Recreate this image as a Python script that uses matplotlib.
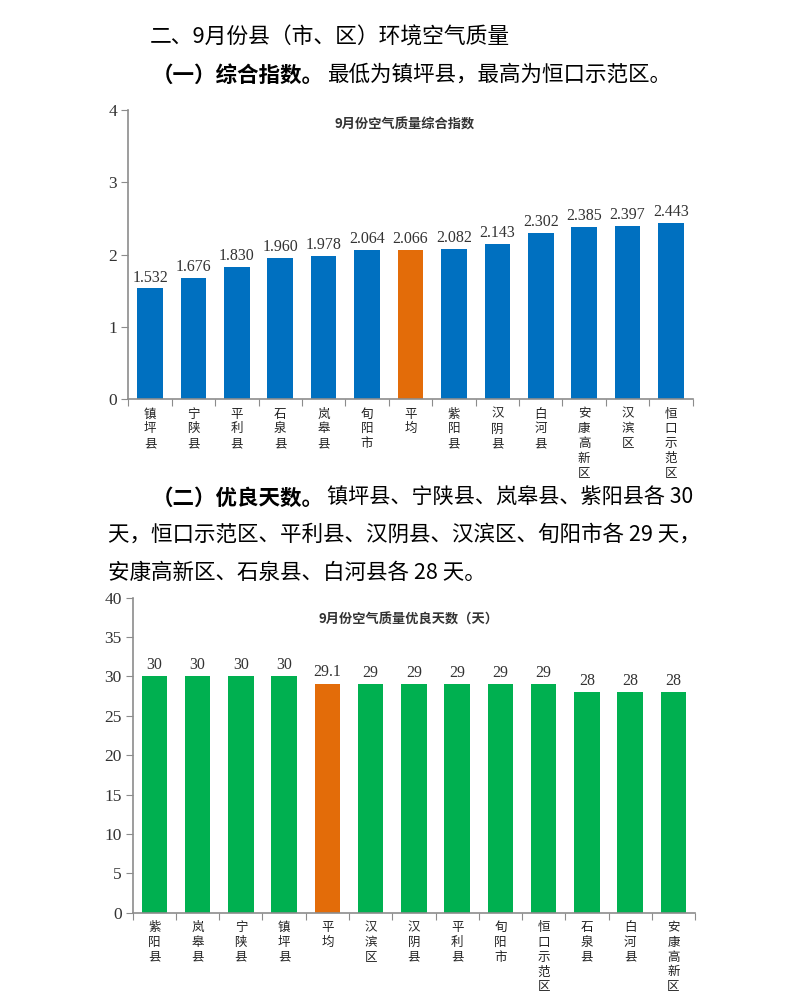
import matplotlib
matplotlib.use("Agg")
import matplotlib.pyplot as plt
import numpy as np

plt.rcParams['font.family'] = ['Noto Sans CJK SC', 'DejaVu Sans']

# chart 1: composite index
idx_names = ["镇坪县", "宁陕县", "平利县", "石泉县", "岚皋县", "旬阳市", "平均",
             "紫阳县", "汉阴县", "白河县", "安康高新区", "汉滨区", "恒口示范区"]
idx_values = [1.532, 1.676, 1.830, 1.960, 1.978, 2.064, 2.066,
              2.082, 2.143, 2.302, 2.385, 2.397, 2.443]

# chart 2: good-air days
day_names = ["紫阳县", "岚皋县", "宁陕县", "镇坪县", "平均", "汉滨区", "汉阴县",
             "平利县", "旬阳市", "恒口示范区", "石泉县", "白河县", "安康高新区"]
day_values = [30, 30, 30, 30, 29.1, 29, 29, 29, 29, 29, 28, 28, 28]

blue = "#0070C0"
green = "#00B050"
orange = "#E36C09"
axis_grey = "#8c8c8c"
serif = ["Liberation Serif", "DejaVu Serif"]

fig = plt.figure(figsize=(8, 9.97), dpi=100)

# page text
fig.text(150 / 800, 1 - 38 / 997, "二、9月份县（市、区）环境空气质量",
         fontsize=15.7, va="center", ha="left")
fig.text(152 / 800, 1 - 75 / 997, "（一）综合指数。", fontsize=15.5,
         fontweight="bold", va="center", ha="left")
fig.text(327 / 800, 1 - 75 / 997, "最低为镇坪县，最高为恒口示范区。",
         fontsize=15.5, va="center", ha="left")
fig.text(152 / 800, 1 - 498 / 997, "（二）优良天数。", fontsize=15.5,
         fontweight="bold", va="center", ha="left")
fig.text(327 / 800, 1 - 498 / 997, "镇坪县、宁陕县、岚皋县、紫阳县各 30",
         fontsize=15.2, va="center", ha="left")
fig.text(108 / 800, 1 - 535 / 997, "天，恒口示范区、平利县、汉阴县、汉滨区、旬阳市各 29 天，",
         fontsize=15.5, va="center", ha="left")
fig.text(108 / 800, 1 - 573 / 997, "安康高新区、石泉县、白河县各 28 天。",
         fontsize=15.5, va="center", ha="left")


def draw(ax, names, values, colour, ymax, step, fmt, title, title_y):
    x = np.arange(len(names))
    cols = [orange if n == "平均" else colour for n in names]
    ax.bar(x, values, width=0.59, color=cols)
    for xi, v in zip(x, values):
        ax.text(xi, v + ymax * 0.01, fmt(v), ha="center", va="bottom",
                fontsize=11.5, family=serif, color="#333333")
    ax.set_xlim(-0.5, len(names) - 0.5)
    ax.set_ylim(0, ymax)
    ax.set_yticks(np.arange(0, ymax + step / 2, step))
    ax.set_yticklabels([str(int(t)) for t in np.arange(0, ymax + step / 2, step)],
                       family=serif, fontsize=12.5, color="#333333")
    ax.set_xticks(np.arange(-0.5, len(names), 1))
    ax.set_xticklabels([])
    ax.set_xticks(x, minor=True)
    ax.set_xticklabels(["\n".join(n) for n in names], minor=True,
                       fontsize=9, linespacing=1.18, va="top", color="#222222")
    ax.tick_params(axis="x", which="minor", length=0, pad=6)
    ax.tick_params(axis="x", which="major", length=5, color=axis_grey, direction="out")
    ax.tick_params(axis="y", length=5, color=axis_grey, direction="out", pad=3)
    for s in ["top", "right"]:
        ax.spines[s].set_visible(False)
    for s in ["left", "bottom"]:
        ax.spines[s].set_color(axis_grey)
        ax.spines[s].set_linewidth(1.2)
    ax.text(0.49, title_y, title, transform=ax.transAxes, ha="center",
            va="center", fontsize=9.5, fontweight="bold", color="#333333")


ax1 = fig.add_axes([0.1604, 0.5995, 0.7055, 0.2902])
draw(ax1, idx_names, idx_values, blue, 4, 1, lambda v: "%.3f" % v,
     "9月份空气质量综合指数", 0.95)

ax2 = fig.add_axes([0.1659, 0.08455, 0.7029, 0.316])
draw(ax2, day_names, day_values, green, 40, 5, lambda v: "%g" % v,
     "9月份空气质量优良天数（天）", 0.93)

fig.savefig("out.png", dpi=100)
